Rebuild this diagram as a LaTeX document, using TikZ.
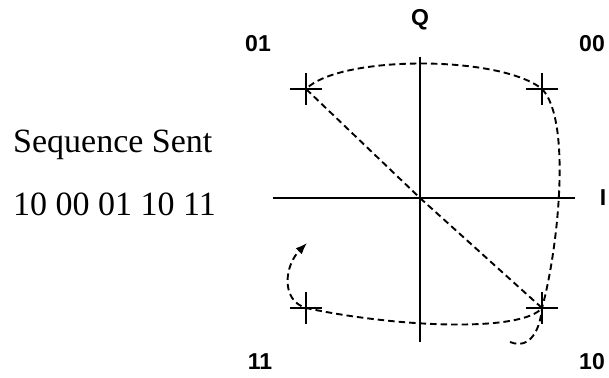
\documentclass[tikz,border=0pt]{standalone}
\usepackage{fontspec}
\setmainfont{Liberation Serif}
\setsansfont{Liberation Sans}
\usetikzlibrary{arrows.meta}

\tikzset{
  axis/.style={line width=2.6pt},
  trace/.style={line width=1.9pt, dash pattern=on 6.5pt off 4pt},
  quad/.style={font=\sffamily\bfseries\fontsize{23}{23}\selectfont},
  seq/.style={font=\fontsize{34}{34}\selectfont, anchor=base west, inner sep=0pt}
}
\newcommand{\symcross}[1]{\draw[line width=2.2pt] ($(#1)+(-16,0)$) -- ($(#1)+(16,0)$) ($(#1)+(0,-16)$) -- ($(#1)+(0,16)$);}
\usetikzlibrary{calc}

\begin{document}
\begin{tikzpicture}[x=1pt,y=-1pt,>=Latex]
\useasboundingbox (0,0) rectangle (609,377);
% axes
\coordinate (O) at (420,198);
\coordinate (iw) at (273,198);  \coordinate (ie) at (575,198);
\coordinate (qn) at (420,57);   \coordinate (qs) at (420,342);
\draw[axis] (iw) -- (ie);
\draw[axis] (qn) -- (qs);
\node[quad] (lq) at (420,20) {Q};
\node[quad] (li) at (603,198) {I};
% constellation points
\coordinate (p01) at (306,89);  \coordinate (p00) at (542,89);
\coordinate (p11) at (306,308); \coordinate (p10) at (542,308);
\symcross{p01} \symcross{p00} \symcross{p11} \symcross{p10}
\node[quad] (l01) at (258,44) {01};
\node[quad] (l00) at (592,44) {00};
\node[quad] (l11) at (260,362) {11};
\node[quad] (l10) at (592,362) {10};
% sequence sent
\node[seq] (title) at (13,152) {Sequence Sent};
\node[seq] (bits) at (13,215) {10 00 01 10 11};
% trace: 10 00 01 10 11
\coordinate (start) at (510,342);
\coordinate (tip) at (307,243);
\draw[trace,->] (start) .. controls (530,350) and (540,330) .. (p10)
  .. controls (558,250) and (572,120) .. (p00)
  .. controls (500,55) and (340,55) .. (p01)
  -- (O) -- (p10)
  .. controls (522,332) and (400,328) .. (p11)
  .. controls (280,300) and (285,265) .. (tip);
\end{tikzpicture}
\end{document}
